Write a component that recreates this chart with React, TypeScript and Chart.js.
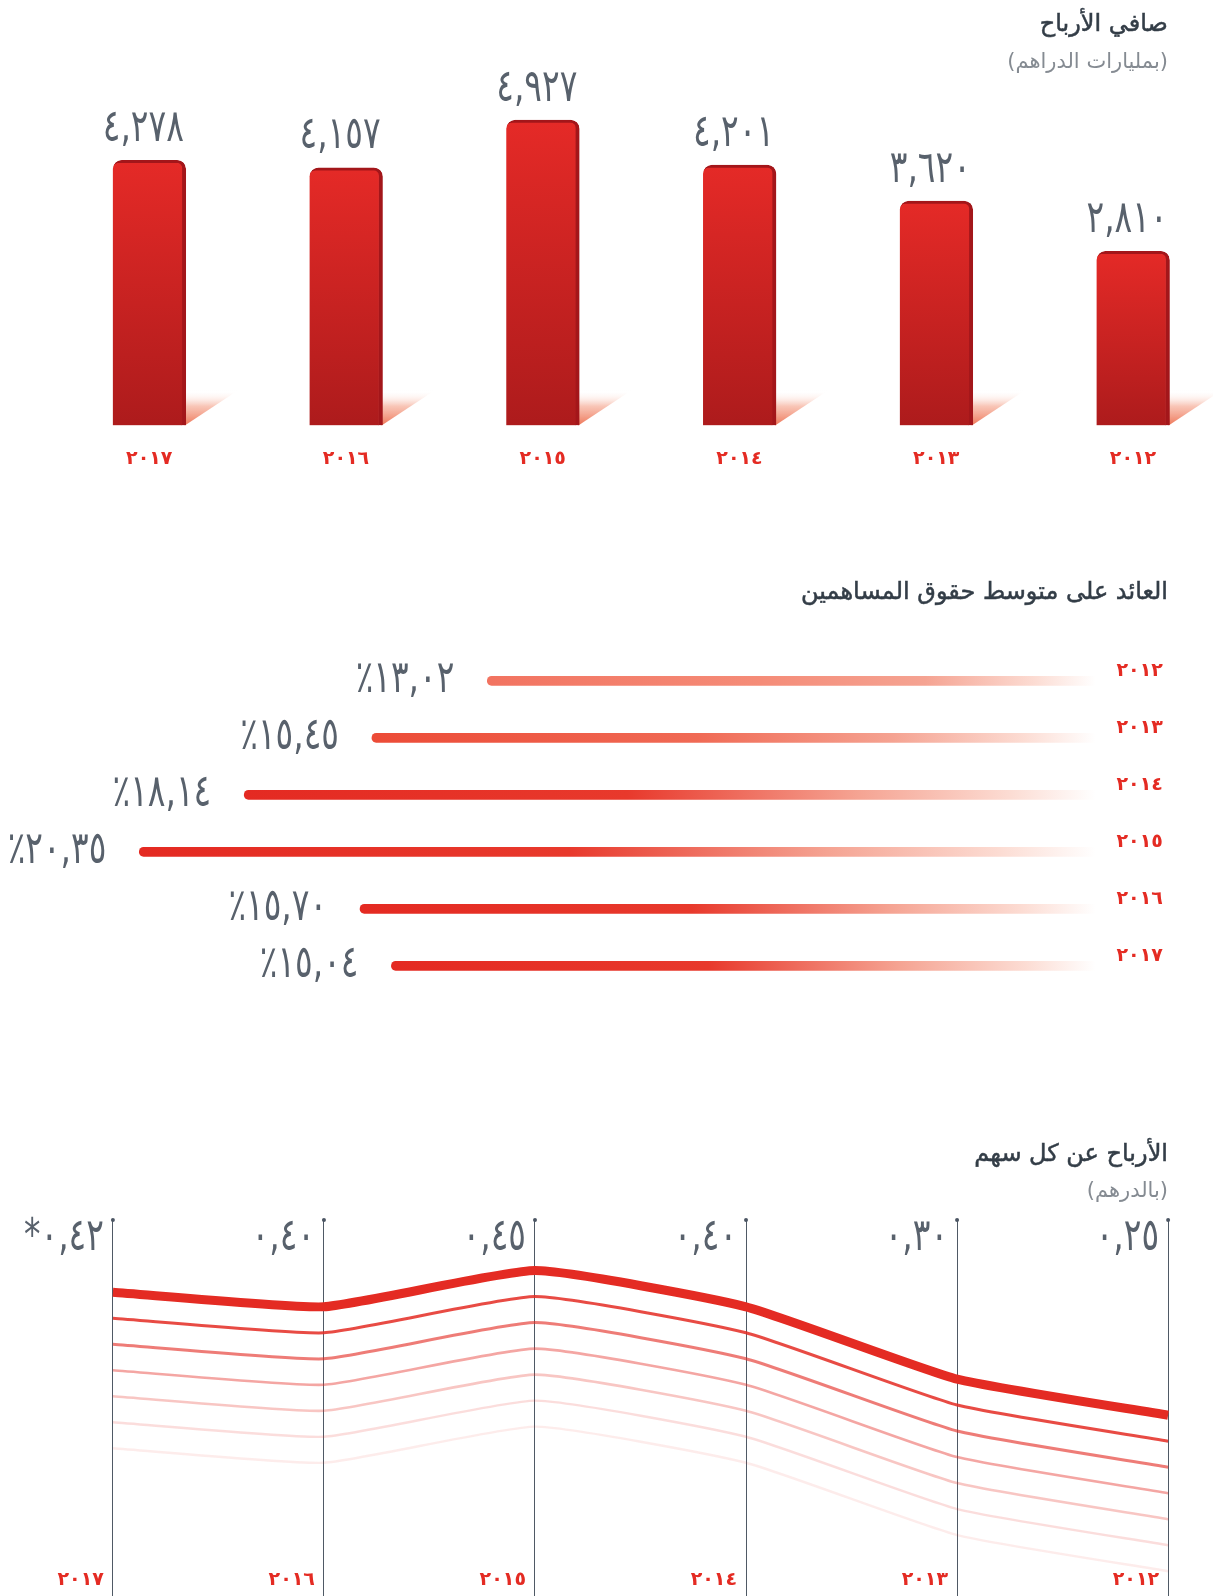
import React, { useEffect, useRef } from 'react';
import { Chart, registerables } from 'chart.js';
Chart.register(...registerables);

// ---------- data ----------
const years = ['2012', '2013', '2014', '2015', '2016', '2017'];
const netProfit = [2810, 3620, 4201, 4927, 4157, 4278];
const roae = [13.02, 15.45, 18.14, 20.35, 15.7, 15.04];
const eps = [0.25, 0.3, 0.4, 0.45, 0.4, 0.42];
const epsNotes = ['', '', '', '', '', '*'];

const title1 = 'صافي الأرباح';
const subtitle1 = '(بمليارات الدراهم)';
const title2 = 'العائد على متوسط حقوق المساهمين';
const title3 = 'الأرباح عن كل سهم';
const subtitle3 = '(بالدرهم)';

// ---------- styling ----------
const RED = '#e42b23';
const LABEL_GREY = '#58616c';
const FONT = '"DejaVu Sans", sans-serif';
const roaeStartColors = ['#f27360', '#ec4b37', '#e42a22', '#e42a22', '#e42a22', '#e42a22'];
const roaeMidColors = ['#f58c78', '#f06a55', '#e8392c', '#e8392c', '#e8392c', '#e8392c'];

const AR_DIGITS = '٠١٢٣٤٥٦٧٨٩';
const toArabic = (s: string) => s.replace(/[0-9]/g, (d) => AR_DIGITS[+d]);
const fmtThousands = (v: number) => toArabic(v.toLocaleString('en-US'));
const fmtDecimal = (v: number) => toArabic(v.toFixed(2).replace('.', ','));
const yearLabels = years.map(toArabic);

const valueFont = `45px ${FONT}`;
const VALUE_SCALE_X = 0.73;
const yearFont = { family: 'DejaVu Sans', size: 19, weight: 'bold' as const };

const ok = (...v: number[]) => v.every((n) => Number.isFinite(n));

function condensedText(ctx: any, text: string, x: number, y: number, align: string) {
  ctx.save();
  ctx.translate(x, y);
  ctx.scale(VALUE_SCALE_X, 1);
  ctx.font = valueFont;
  ctx.fillStyle = LABEL_GREY;
  ctx.textAlign = align;
  ctx.textBaseline = 'middle';
  ctx.fillText(text, 0, 0);
  ctx.restore();
}

// ---------- chart 1 : net profit bars ----------
const shadowPlugin = {
  id: 'barShadow',
  beforeDatasetsDraw(chart: any) {
    const ctx = chart.ctx;
    const meta = chart.getDatasetMeta(0);
    meta.data.forEach((el: any) => {
      const r = el.x + el.width / 2;
      const b = el.base;
      if (!ok(r, b)) return;
      const g = ctx.createLinearGradient(0, b - 35, 0, b);
      g.addColorStop(0, 'rgba(255,255,255,0)');
      g.addColorStop(0.45, 'rgba(246,178,158,0.75)');
      g.addColorStop(1, 'rgba(238,118,88,1)');
      ctx.save();
      ctx.fillStyle = g;
      ctx.beginPath();
      ctx.moveTo(r - 1, b);
      ctx.lineTo(r - 1, b - 35);
      ctx.lineTo(r + 52, b - 35);
      ctx.closePath();
      ctx.fill();
      ctx.restore();
    });
  },
};

const barLabelPlugin = {
  id: 'barLabels',
  afterDatasetsDraw(chart: any) {
    const meta = chart.getDatasetMeta(0);
    meta.data.forEach((el: any, i: number) => {
      condensedText(chart.ctx, fmtThousands(netProfit[i]), el.x - 6, el.y - 31, 'center');
    });
  },
};

function NetProfitChart() {
  const ref = useRef<HTMLCanvasElement>(null);
  useEffect(() => {
    const chart = new Chart(ref.current as HTMLCanvasElement, {
      type: 'bar',
      data: {
        labels: yearLabels,
        datasets: [
          {
            data: netProfit,
            backgroundColor: (c: any) => {
              const ch = c.chart;
              const ys = ch.scales && ch.scales.y;
              if (!ch.chartArea || !ys || c.dataIndex === undefined) return '#d02222';
              const top = ys.getPixelForValue(netProfit[c.dataIndex]);
              const bot = ys.getPixelForValue(0);
              if (!ok(top, bot)) return '#d02222';
              const g = ch.ctx.createLinearGradient(0, top, 0, bot);
              g.addColorStop(0, '#e52a27');
              g.addColorStop(1, '#ad1b1c');
              return g;
            },
            borderColor: '#a3161a',
            borderWidth: { top: 3, right: 4, bottom: 0, left: 0 },
            borderRadius: { topLeft: 9, topRight: 9, bottomLeft: 0, bottomRight: 0 },
            borderSkipped: false,
            barThickness: 73,
          } as any,
        ],
      },
      options: {
        animation: false,
        responsive: false,
        layout: { padding: { left: 50.9, right: 8.6, top: 100, bottom: 0 } },
        plugins: { legend: { display: false }, tooltip: { enabled: false } },
        scales: {
          x: {
            reverse: true,
            grid: { display: false, drawTicks: false },
            border: { display: false },
            ticks: { color: RED, font: yearFont, padding: 22, maxRotation: 0, autoSkip: false },
            afterFit: (s: any) => {
              s.height = 54.6;
            },
          },
          y: { display: false, min: 0, max: 5250 },
        },
      } as any,
      plugins: [shadowPlugin, barLabelPlugin],
    });
    return () => chart.destroy();
  }, []);
  return <canvas ref={ref} width={1240} height={480} style={{ position: 'absolute', left: 0, top: 0 }} />;
}

// ---------- chart 2 : return on equity ----------
const roaeLabelPlugin = {
  id: 'roaeLabels',
  afterDatasetsDraw(chart: any) {
    const meta = chart.getDatasetMeta(0);
    meta.data.forEach((el: any, i: number) => {
      condensedText(chart.ctx, '٪' + fmtDecimal(roae[i]), el.x - 33, el.y, 'right');
    });
  },
};

function RoaeChart() {
  const ref = useRef<HTMLCanvasElement>(null);
  useEffect(() => {
    const chart = new Chart(ref.current as HTMLCanvasElement, {
      type: 'bar',
      data: {
        labels: yearLabels,
        datasets: [
          {
            data: roae,
            backgroundColor: (c: any) => {
              const ch = c.chart;
              const xs = ch.scales && ch.scales.x;
              if (!ch.chartArea || !xs || c.dataIndex === undefined) return RED;
              const x0 = xs.getPixelForValue(roae[c.dataIndex]);
              const x1 = xs.getPixelForValue(0) - 10;
              if (!ok(x0, x1)) return RED;
              const i = c.dataIndex;
              const g = ch.ctx.createLinearGradient(x0, 0, x1, 0);
              g.addColorStop(0, roaeStartColors[i]);
              g.addColorStop(0.45, roaeMidColors[i]);
              g.addColorStop(0.72, '#f5a392');
              g.addColorStop(0.9, '#fcdcd3');
              g.addColorStop(1, 'rgba(255,255,255,1)');
              return g;
            },
            barThickness: 9,
            borderRadius: 5,
            borderSkipped: false,
          } as any,
        ],
      },
      options: {
        animation: false,
        responsive: false,
        indexAxis: 'y',
        layout: { padding: { left: 13.5, right: 0, top: 92.3, bottom: 25.7 } },
        plugins: { legend: { display: false }, tooltip: { enabled: false } },
        scales: {
          x: { display: false, min: 0, max: 23, reverse: true },
          y: {
            position: 'right',
            grid: { display: false, drawTicks: false },
            border: { display: false },
            ticks: { color: RED, font: yearFont, padding: 11, labelOffset: -10, crossAlign: 'near', autoSkip: false },
            afterFit: (s: any) => {
              s.width = 107.5;
            },
          },
        },
      } as any,
      plugins: [roaeLabelPlugin],
    });
    return () => chart.destroy();
  }, []);
  return <canvas ref={ref} width={1213} height={460} style={{ position: 'absolute', left: 0, top: 560 }} />;
}

// ---------- chart 3 : EPS ----------
const echoPlugin = {
  id: 'echoLines',
  beforeDatasetsDraw(chart: any) {
    const ctx = chart.ctx;
    const pts = chart.getDatasetMeta(0).data;
    if (!pts.length) return;
    const alphas = [0.85, 0.62, 0.42, 0.27, 0.16, 0.09];
    const widths = [3, 3, 2.6, 2.6, 2.4, 2.4];
    ctx.save();
    alphas.forEach((a, k) => {
      const dy = (k + 1) * 26;
      ctx.beginPath();
      ctx.moveTo(pts[0].x, pts[0].y + dy);
      for (let i = 1; i < pts.length; i++) {
        const p = pts[i - 1];
        const c = pts[i];
        const cp1x = ok(p.cp2x) ? p.cp2x : p.x;
        const cp1y = ok(p.cp2y) ? p.cp2y : p.y;
        const cp2x = ok(c.cp1x) ? c.cp1x : c.x;
        const cp2y = ok(c.cp1y) ? c.cp1y : c.y;
        ctx.bezierCurveTo(cp1x, cp1y + dy, cp2x, cp2y + dy, c.x, c.y + dy);
      }
      ctx.strokeStyle = `rgba(228,43,35,${a})`;
      ctx.lineWidth = widths[k];
      ctx.lineJoin = 'round';
      ctx.stroke();
    });
    ctx.restore();
  },
  afterDraw(chart: any) {
    const ctx = chart.ctx;
    const xs = chart.scales.x;
    const { top, bottom } = chart.chartArea;
    ctx.save();
    ctx.fillStyle = '#4b5563';
    for (let i = 0; i < eps.length; i++) {
      const x = xs.getPixelForValue(i);
      ctx.beginPath();
      ctx.arc(x, top, 2, 0, Math.PI * 2);
      ctx.fill();
    }
    ctx.fillStyle = RED;
    ctx.font = `bold ${yearFont.size}px ${FONT}`;
    ctx.textAlign = 'right';
    ctx.textBaseline = 'middle';
    for (let i = 0; i < eps.length; i++) {
      const x = xs.getPixelForValue(i);
      ctx.fillText(yearLabels[i], x - 9, bottom - 16);
    }
    ctx.restore();
    for (let i = 0; i < eps.length; i++) {
      const x = xs.getPixelForValue(i);
      condensedText(ctx, epsNotes[i] + fmtDecimal(eps[i]), x - 9, top + 18, 'right');
    }
  },
};

function EpsChart() {
  const ref = useRef<HTMLCanvasElement>(null);
  useEffect(() => {
    const chart = new Chart(ref.current as HTMLCanvasElement, {
      type: 'line',
      data: {
        labels: yearLabels,
        datasets: [
          {
            data: eps,
            borderColor: RED,
            borderWidth: 9,
            pointRadius: 0,
            tension: 0.15,
            fill: false,
          } as any,
        ],
      },
      options: {
        animation: false,
        responsive: false,
        layout: { padding: { left: 112.9, right: 44.9, top: 120, bottom: 0 } },
        plugins: { legend: { display: false }, tooltip: { enabled: false } },
        scales: {
          x: {
            reverse: true,
            offset: false,
            grid: { color: '#4f5965', lineWidth: 1, drawTicks: false },
            border: { display: false },
            ticks: { display: false },
            afterFit: (s: any) => {
              s.height = 0;
            },
          },
          y: { display: false, min: 0, max: 0.52 },
        },
      } as any,
      plugins: [echoPlugin],
    });
    return () => chart.destroy();
  }, []);
  return <canvas ref={ref} width={1213} height={496} style={{ position: 'absolute', left: 0, top: 1100 }} />;
}

// ---------- titles ----------
function Heading(props: { top: number; size: number; color: string; stroke?: boolean; children: string }) {
  return (
    <div
      dir="rtl"
      style={{
        position: 'absolute',
        right: 45,
        top: props.top,
        fontSize: props.size,
        fontWeight: 400,
        color: props.color,
        lineHeight: '30px',
        whiteSpace: 'nowrap',
        fontFamily: FONT,
        WebkitTextStroke: props.stroke ? `0.5px ${props.color}` : undefined,
      }}
    >
      {props.children}
    </div>
  );
}

export default function App() {
  return (
    <div
      style={{
        position: 'absolute',
        left: 0,
        top: 0,
        width: 1213,
        height: 1596,
        overflow: 'hidden',
        background: '#ffffff',
      }}
    >
      <NetProfitChart />
      <RoaeChart />
      <EpsChart />
      <Heading top={8} size={24} color="#333d47" stroke>{title1}</Heading>
      <Heading top={46} size={21} color="#858b92">{subtitle1}</Heading>
      <Heading top={576} size={24} color="#333d47" stroke>{title2}</Heading>
      <Heading top={1138} size={24} color="#333d47" stroke>{title3}</Heading>
      <Heading top={1175} size={21} color="#858b92">{subtitle3}</Heading>
    </div>
  );
}
